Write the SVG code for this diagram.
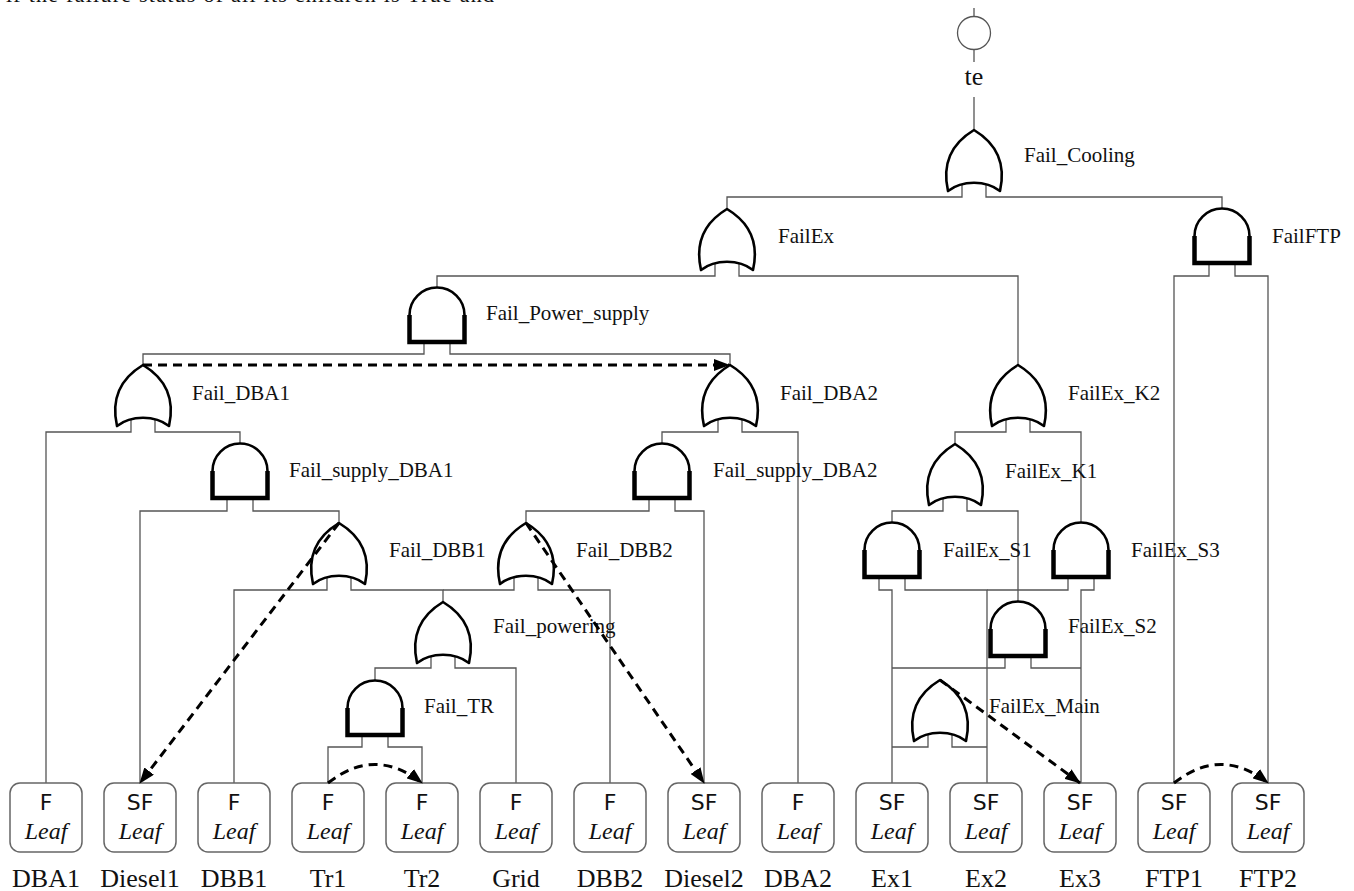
<svg xmlns="http://www.w3.org/2000/svg" xmlns:xlink="http://www.w3.org/1999/xlink" width="1354" height="891" viewBox="0 0 1354 891">
<style>
.w{stroke:#555;stroke-width:1.3;fill:none}
.gs{fill:#fff;stroke:#000;stroke-width:2.6;stroke-linejoin:round}
.gb{fill:none;stroke:#000;stroke-width:4.5}
.lbl{font-family:"Liberation Serif",serif;font-size:21px;fill:#111}
.box{fill:#fff;stroke:#666;stroke-width:1.5}
.st{font-family:"DejaVu Sans",sans-serif;font-size:22px;text-anchor:middle;fill:#111}
.lf{font-family:"Liberation Serif",serif;font-style:italic;font-size:24px;text-anchor:middle;fill:#111}
.nm{font-family:"Liberation Serif",serif;font-size:26px;text-anchor:middle;fill:#111}
.dep{stroke:#000;stroke-width:3;stroke-dasharray:9 6;fill:none;marker-end:url(#ah)}
</style>
<defs>
<marker id="ah" markerUnits="userSpaceOnUse" viewBox="0 0 16 12" refX="15" refY="6" markerWidth="16" markerHeight="12" orient="auto">
<path d="M0,0 L16,6 L0,12 Z" fill="#000"/>
</marker>
<g id="orShape"><path class="gs" d="M0,0 C20,12 33,30 26,61 C12,50 -12,50 -26,61 C-33,30 -20,12 0,0 Z"/></g>
<g id="andShape"><path class="gs" d="M-27.5,28 A27.5,27.5 0 0 1 27.5,28 L27.5,55 L-27.5,55 Z"/><path class="gb" d="M-27.5,28 L-27.5,55 L27.5,55 L27.5,28"/></g>
</defs>
<rect width="1354" height="891" fill="#fff"/>
<text x="6" y="2" font-family="Liberation Serif, serif" font-size="22" textLength="488" lengthAdjust="spacing" fill="#111">if the failure status of all its children is True and</text>

<g id="connectors">
<circle cx="974" cy="33" r="16.5" fill="none" stroke="#555" stroke-width="1.3"/>
<path class="w" d="M974,8 V17 M974,50 V62 M974,97 V130"/>
<path class="w" d="M962,185 V197 H727 V209 M986,185 V197 H1222 V208"/>
<path class="w" d="M715,264 V276 H437 V287 M739,264 V276 H1018 V365"/>
<path class="w" d="M1209,263 V276 H1174 V783 M1235,263 V276 H1268 V783"/>
<path class="w" d="M424,342 V354 H143 V365 M450,342 V354 H730 V365"/>
<path class="w" d="M131,420 V432 H46 V783 M155,420 V432 H240 V443"/>
<path class="w" d="M718,420 V432 H662 V443 M742,420 V432 H798 V783"/>
<path class="w" d="M1006,420 V432 H955 V444 M1030,420 V432 H1081 V522"/>
<path class="w" d="M227,498 V511 H140 V783 M253,498 V511 H339 V523"/>
<path class="w" d="M649,498 V511 H526 V523 M675,498 V511 H704 V783"/>
<path class="w" d="M943,499 V511 H892 V522 M967,499 V511 H1018 V601"/>
<path class="w" d="M327,578 V590 H234 V783 M351,578 V590 H443 V602"/>
<path class="w" d="M514,578 V590 H443 M538,578 V590 H610 V783"/>
<path class="w" d="M879,577 V590 H892 V783 M905,577 V590 H987 V783"/>
<path class="w" d="M1068,577 V590 H987 M1094,577 V590 H1081 V783"/>
<path class="w" d="M431,656 V668 H375 V680 M455,656 V668 H516 V783"/>
<path class="w" d="M1005,656 V668 H892 M1031,656 V668 H1081"/>
<path class="w" d="M362,735 V747 H328 V783 M388,735 V747 H422 V783"/>
<path class="w" d="M928,735 V747 H892 M952,735 V747 H987"/>
</g>

<g id="te"><text x="974" y="85" font-family="Liberation Serif, serif" font-size="26" text-anchor="middle" fill="#111">te</text></g>

<g id="Fail_Cooling"><use xlink:href="#orShape" x="974" y="130"/><text class="lbl" x="1024" y="162">Fail_Cooling</text></g>
<g id="FailEx"><use xlink:href="#orShape" x="727" y="209"/><text class="lbl" x="778" y="243">FailEx</text></g>
<g id="FailFTP"><use xlink:href="#andShape" x="1222" y="208"/><text class="lbl" x="1272" y="243">FailFTP</text></g>
<g id="Fail_Power_supply"><use xlink:href="#andShape" x="437" y="287"/><text class="lbl" x="486" y="320">Fail_Power_supply</text></g>
<g id="Fail_DBA1"><use xlink:href="#orShape" x="143" y="365"/><text class="lbl" x="192" y="400">Fail_DBA1</text></g>
<g id="Fail_DBA2"><use xlink:href="#orShape" x="730" y="365"/><text class="lbl" x="780" y="400">Fail_DBA2</text></g>
<g id="FailEx_K2"><use xlink:href="#orShape" x="1018" y="365"/><text class="lbl" x="1068" y="400">FailEx_K2</text></g>
<g id="Fail_supply_DBA1"><use xlink:href="#andShape" x="240" y="443"/><text class="lbl" x="289" y="477">Fail_supply_DBA1</text></g>
<g id="Fail_supply_DBA2"><use xlink:href="#andShape" x="662" y="443"/><text class="lbl" x="713" y="477">Fail_supply_DBA2</text></g>
<g id="FailEx_K1"><use xlink:href="#orShape" x="955" y="444"/><text class="lbl" x="1005" y="478">FailEx_K1</text></g>
<g id="Fail_DBB1"><use xlink:href="#orShape" x="339" y="523"/><text class="lbl" x="389" y="557">Fail_DBB1</text></g>
<g id="Fail_DBB2"><use xlink:href="#orShape" x="526" y="523"/><text class="lbl" x="576" y="557">Fail_DBB2</text></g>
<g id="FailEx_S1"><use xlink:href="#andShape" x="892" y="522"/><text class="lbl" x="943" y="557">FailEx_S1</text></g>
<g id="FailEx_S3"><use xlink:href="#andShape" x="1081" y="522"/><text class="lbl" x="1131" y="557">FailEx_S3</text></g>
<g id="Fail_powering"><use xlink:href="#orShape" x="443" y="602"/><text class="lbl" x="493" y="633">Fail_powering</text></g>
<g id="FailEx_S2"><use xlink:href="#andShape" x="1018" y="601"/><text class="lbl" x="1068" y="633">FailEx_S2</text></g>
<g id="Fail_TR"><use xlink:href="#andShape" x="375" y="680"/><text class="lbl" x="424" y="713">Fail_TR</text></g>
<g id="FailEx_Main"><use xlink:href="#orShape" x="940" y="680"/><text class="lbl" x="989" y="713">FailEx_Main</text></g>

<g id="leaf-DBA1"><rect class="box" x="10" y="783" width="72" height="69" rx="10"/><text class="st" x="46" y="810">F</text><text class="lf" x="46" y="839">Leaf</text><text class="nm" x="46" y="887">DBA1</text></g>
<g id="leaf-Diesel1"><rect class="box" x="104" y="783" width="72" height="69" rx="10"/><text class="st" x="140" y="810">SF</text><text class="lf" x="140" y="839">Leaf</text><text class="nm" x="140" y="887">Diesel1</text></g>
<g id="leaf-DBB1"><rect class="box" x="198" y="783" width="72" height="69" rx="10"/><text class="st" x="234" y="810">F</text><text class="lf" x="234" y="839">Leaf</text><text class="nm" x="234" y="887">DBB1</text></g>
<g id="leaf-Tr1"><rect class="box" x="292" y="783" width="72" height="69" rx="10"/><text class="st" x="328" y="810">F</text><text class="lf" x="328" y="839">Leaf</text><text class="nm" x="328" y="887">Tr1</text></g>
<g id="leaf-Tr2"><rect class="box" x="386" y="783" width="72" height="69" rx="10"/><text class="st" x="422" y="810">F</text><text class="lf" x="422" y="839">Leaf</text><text class="nm" x="422" y="887">Tr2</text></g>
<g id="leaf-Grid"><rect class="box" x="480" y="783" width="72" height="69" rx="10"/><text class="st" x="516" y="810">F</text><text class="lf" x="516" y="839">Leaf</text><text class="nm" x="516" y="887">Grid</text></g>
<g id="leaf-DBB2"><rect class="box" x="574" y="783" width="72" height="69" rx="10"/><text class="st" x="610" y="810">F</text><text class="lf" x="610" y="839">Leaf</text><text class="nm" x="610" y="887">DBB2</text></g>
<g id="leaf-Diesel2"><rect class="box" x="668" y="783" width="72" height="69" rx="10"/><text class="st" x="704" y="810">SF</text><text class="lf" x="704" y="839">Leaf</text><text class="nm" x="704" y="887">Diesel2</text></g>
<g id="leaf-DBA2"><rect class="box" x="762" y="783" width="72" height="69" rx="10"/><text class="st" x="798" y="810">F</text><text class="lf" x="798" y="839">Leaf</text><text class="nm" x="798" y="887">DBA2</text></g>
<g id="leaf-Ex1"><rect class="box" x="856" y="783" width="72" height="69" rx="10"/><text class="st" x="892" y="810">SF</text><text class="lf" x="892" y="839">Leaf</text><text class="nm" x="892" y="887">Ex1</text></g>
<g id="leaf-Ex2"><rect class="box" x="950" y="783" width="72" height="69" rx="10"/><text class="st" x="986" y="810">SF</text><text class="lf" x="986" y="839">Leaf</text><text class="nm" x="986" y="887">Ex2</text></g>
<g id="leaf-Ex3"><rect class="box" x="1044" y="783" width="72" height="69" rx="10"/><text class="st" x="1080" y="810">SF</text><text class="lf" x="1080" y="839">Leaf</text><text class="nm" x="1080" y="887">Ex3</text></g>
<g id="leaf-FTP1"><rect class="box" x="1138" y="783" width="72" height="69" rx="10"/><text class="st" x="1174" y="810">SF</text><text class="lf" x="1174" y="839">Leaf</text><text class="nm" x="1174" y="887">FTP1</text></g>
<g id="leaf-FTP2"><rect class="box" x="1232" y="783" width="72" height="69" rx="10"/><text class="st" x="1268" y="810">SF</text><text class="lf" x="1268" y="839">Leaf</text><text class="nm" x="1268" y="887">FTP2</text></g>

<g id="dependencies">
<path class="dep" d="M143,365 H729"/>
<path class="dep" d="M339,523 L140,783"/>
<path class="dep" d="M526,523 L704,783"/>
<path class="dep" d="M328,783 Q375,746 422,783"/>
<path class="dep" d="M940,680 L1080,783"/>
<path class="dep" d="M1174,783 Q1221,746 1268,783"/>
</g>
</svg>
